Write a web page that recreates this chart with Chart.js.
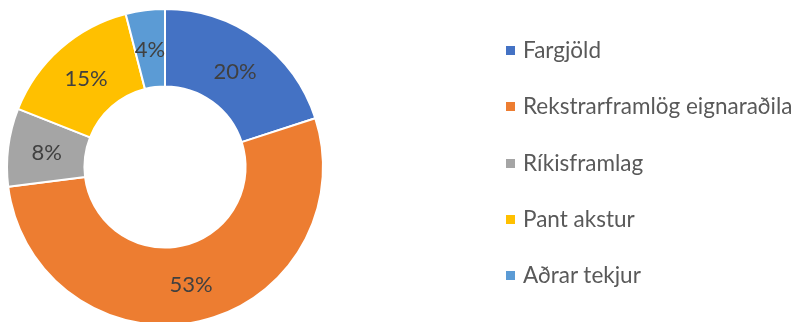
<!DOCTYPE html>
<html>
<head>
<meta charset="utf-8">
<script src="https://cdn.jsdelivr.net/npm/chart.js@4"></script>
<style>
  html, body { margin: 0; padding: 0; background: #fff; overflow: hidden; }
  #wrap { position: absolute; left: 0; top: 0; width: 797px; height: 334px; }
  #legend { position: absolute; left: 506px; top: 0; margin: 0; padding: 0; list-style: none;
            font-family: Lato, "Open Sans", sans-serif; font-size: 22.5px; color: #595959; }
  #legend li { position: absolute; left: 0; white-space: nowrap; height: 26px; line-height: 26px; }
  #legend span.box { position: absolute; left: 0; top: 9px; width: 9px; height: 9px; }
  #legend span.txt { position: absolute; left: 17px; top: 0; }
</style>
</head>
<body>
<div id="wrap">
  <canvas id="mycanvas" width="797" height="334"></canvas>
  <ul id="legend"></ul>
</div>
<script>
var categories = ['Fargjöld', 'Rekstrarframlög eignaraðila', 'Ríkisframlag', 'Pant akstur', 'Aðrar tekjur'];
var shares = [20, 53, 8, 15, 4];
var colors = ['#4472C4', '#ED7D31', '#A5A5A5', '#FFC000', '#5B9BD5'];
var legendRows = [50, 106, 163, 219, 275];

// percent text in the middle of each ring segment
var sliceLabels = {
	id: 'sliceLabels',
	afterDatasetsDraw: function(chart) {
		var ctx = chart.ctx;
		var meta = chart.getDatasetMeta(0);
		ctx.save();
		ctx.font = '22px Lato, "Open Sans", sans-serif';
		ctx.fillStyle = '#404040';
		ctx.textAlign = 'center';
		ctx.textBaseline = 'middle';
		meta.data.forEach(function(arc, i) {
			var pos = arc.tooltipPosition();
			ctx.fillText(chart.data.datasets[0].data[i] + '%', pos.x, pos.y + 1);
		});
		ctx.restore();
	}
};

var chartdata = {
	labels: categories,
	datasets: [{
		data: shares,
		backgroundColor: colors,
		borderColor: '#ffffff',
		borderWidth: 2
	}]
};

var ctx = document.getElementById('mycanvas');
var donut = new Chart(ctx, {
	type: 'doughnut',
	data: chartdata,
	options: {
		responsive: false,
		animation: false,
		cutout: '51%',
		layout: { padding: { left: 6, right: 473, top: 8, bottom: 8 } },
		plugins: {
			legend: { display: false },
			tooltip: { enabled: false }
		}
	},
	plugins: [sliceLabels]
});

// legend list built from the chart's own labels
var list = document.getElementById('legend');
donut.options.plugins.legend.labels.generateLabels(donut).forEach(function(item, i) {
	var li = document.createElement('li');
	li.style.top = (legendRows[i] - 13) + 'px';
	var box = document.createElement('span');
	box.className = 'box';
	box.style.background = item.fillStyle;
	var txt = document.createElement('span');
	txt.className = 'txt';
	txt.textContent = item.text;
	li.appendChild(box);
	li.appendChild(txt);
	list.appendChild(li);
});
</script>
</body>
</html>
